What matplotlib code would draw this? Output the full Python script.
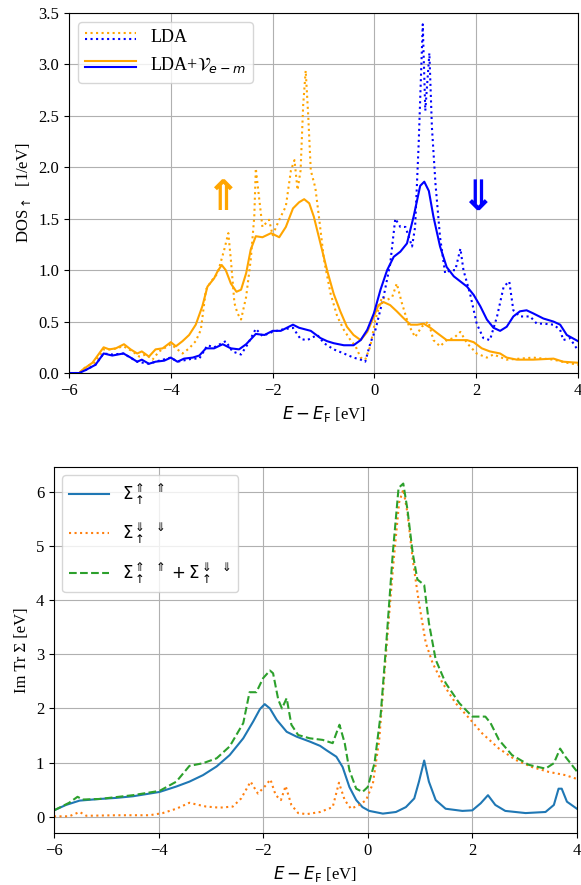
#!/usr/bin/env python3
import matplotlib
matplotlib.use('Agg')
from matplotlib import pyplot as plt
from matplotlib.legend_handler import HandlerBase
from matplotlib.lines import Line2D

plt.rcParams['font.family'] = ['Liberation Serif', 'DejaVu Sans']
plt.rcParams['mathtext.fontset'] = 'dejavusans'
plt.rcParams['font.size'] = 12

# %% top panel: spin-resolved DOS
E_up_lda = [-6.0, -5.8, -5.67, -5.5, -5.32, -5.15, -4.93, -4.75, -4.62, -4.49, -4.36, -4.23,
            -4.0, -3.87, -3.77, -3.64, -3.51, -3.41, -3.31, -3.21, -3.08, -2.95, -2.87,
            -2.82, -2.75, -2.69, -2.62, -2.52, -2.43, -2.36, -2.33, -2.26, -2.2, -2.07,
            -2.0, -1.87, -1.74, -1.64, -1.57, -1.51, -1.45, -1.40, -1.35, -1.30, -1.25,
            -1.16, -1.09, -0.99, -0.86, -0.73, -0.60, -0.47, -0.37, -0.27, -0.18, -0.08,
            0.02, 0.15, 0.25, 0.35, 0.44, 0.54, 0.67, 0.80, 0.93, 1.06, 1.16, 1.29, 1.42,
            1.56, 1.69, 1.82, 2.01, 2.21, 2.34, 2.6, 3.12, 3.52, 3.78, 4.0]
dos_up_lda = [0.0, 0.0, 0.06, 0.1, 0.23, 0.23, 0.26, 0.21, 0.16, 0.18, 0.13, 0.21,
              0.28, 0.23, 0.19, 0.24, 0.31, 0.42, 0.81, 0.89, 0.97, 1.20, 1.36,
              1.10, 0.68, 0.58, 0.52, 0.74, 1.10, 1.52, 1.99, 1.68, 1.42, 1.49,
              1.34, 1.49, 1.62, 1.97, 2.07, 1.78, 1.97, 2.6, 2.94, 2.5, 1.97,
              1.80, 1.52, 1.10, 0.77, 0.55, 0.42, 0.32, 0.26, 0.15, 0.13, 0.26,
              0.52, 0.74, 0.71, 0.74, 0.87, 0.68, 0.47, 0.35, 0.45, 0.50, 0.32, 0.26, 0.32,
              0.34, 0.40, 0.29, 0.19, 0.15, 0.18, 0.13, 0.15, 0.13, 0.10, 0.08]

E_up_v = [-6.0, -5.8, -5.74, -5.54, -5.32, -5.21, -5.08, -4.92, -4.79, -4.66, -4.57, -4.43,
          -4.30, -4.16, -4.0, -3.90, -3.77, -3.64, -3.51, -3.38, -3.28, -3.15, -3.08,
          -3.0, -2.92, -2.82, -2.71, -2.62, -2.52, -2.43, -2.33, -2.2, -2.03, -1.87,
          -1.74, -1.6, -1.48, -1.38, -1.28, -1.19, -1.06, -0.93, -0.80, -0.67, -0.54,
          -0.41, -0.27, -0.14, -0.01, 0.08, 0.18, 0.31, 0.44, 0.58, 0.71, 0.84, 0.97,
          1.10, 1.23, 1.42, 1.62, 1.82, 1.95, 2.11, 2.27, 2.47, 2.60, 2.80, 3.12, 3.52,
          3.71, 4.0]
dos_up_v = [0.0, 0.0, 0.03, 0.1, 0.25, 0.23, 0.24, 0.28, 0.23, 0.19, 0.21, 0.16,
            0.23, 0.24, 0.30, 0.26, 0.31, 0.37, 0.47, 0.65, 0.84, 0.92, 0.99,
            1.05, 1.0, 0.87, 0.79, 0.81, 0.97, 1.2, 1.33, 1.32, 1.36, 1.32,
            1.42, 1.60, 1.66, 1.69, 1.65, 1.52, 1.26, 1.0, 0.77, 0.60, 0.45,
            0.37, 0.32, 0.40, 0.55, 0.66, 0.69, 0.66, 0.60, 0.53, 0.47, 0.47, 0.48,
            0.44, 0.39, 0.32, 0.32, 0.32, 0.30, 0.24, 0.21, 0.19, 0.15, 0.13, 0.13, 0.14,
            0.11, 0.10]

E_dn_lda = [-6.0, -5.8, -5.67, -5.48, -5.32, -5.15, -4.93, -4.66, -4.43, -4.23, -4.0,
            -3.87, -3.57, -3.44, -3.28, -3.15, -2.92, -2.79, -2.62, -2.49, -2.33, -2.2,
            -2.0, -1.84, -1.6, -1.45, -1.32, -1.12, -0.99, -0.80, -0.60, -0.41, -0.27,
            -0.18, -0.08, 0.02, 0.18, 0.31, 0.41, 0.51, 0.61, 0.74, 0.80, 0.87, 0.95,
            1.0, 1.08, 1.13, 1.20, 1.29, 1.39, 1.49, 1.59, 1.69, 1.75, 1.88, 2.01, 2.14,
            2.27, 2.41, 2.54, 2.65, 2.73, 2.86, 3.06, 3.19, 3.32, 3.52, 3.65, 3.71, 3.84,
            4.0]
dos_dn_lda = [0.0, 0.0, 0.03, 0.08, 0.19, 0.18, 0.19, 0.11, 0.09, 0.12, 0.15,
              0.11, 0.14, 0.14, 0.27, 0.25, 0.31, 0.21, 0.18, 0.28, 0.43, 0.36,
              0.40, 0.42, 0.44, 0.33, 0.32, 0.37, 0.29, 0.23, 0.19, 0.15, 0.13,
              0.11, 0.29, 0.42, 0.74, 1.06, 1.50, 1.42, 1.42, 1.23, 1.42, 2.23, 3.39,
              2.55, 3.11, 2.39, 1.84, 1.32, 0.97, 1.0, 1.0, 1.21, 1.0, 0.77, 0.48, 0.34,
              0.32, 0.55, 0.84, 0.89, 0.61, 0.55, 0.55, 0.48, 0.48, 0.47, 0.42, 0.32, 0.34,
              0.22]

E_dn_v = [-6.0, -5.8, -5.67, -5.48, -5.32, -5.15, -4.93, -4.79, -4.66, -4.57, -4.43,
          -4.30, -4.13, -4.0, -3.87, -3.74, -3.57, -3.44, -3.31, -3.15, -2.98, -2.82,
          -2.66, -2.52, -2.33, -2.16, -2.0, -1.84, -1.6, -1.48, -1.25, -1.06, -0.93,
          -0.80, -0.60, -0.41, -0.27, -0.14, -0.01, 0.12, 0.25, 0.38, 0.51, 0.64, 0.77,
          0.90, 0.98, 1.07, 1.16, 1.29, 1.42, 1.56, 1.69, 1.82, 1.95, 2.08, 2.21, 2.34,
          2.47, 2.60, 2.73, 2.86, 2.99, 3.12, 3.32, 3.52, 3.65, 3.78, 4.0]
dos_dn_v = [0.0, 0.0, 0.03, 0.08, 0.19, 0.17, 0.19, 0.15, 0.11, 0.13, 0.09,
            0.11, 0.12, 0.15, 0.11, 0.14, 0.15, 0.17, 0.24, 0.24, 0.28, 0.24,
            0.23, 0.28, 0.38, 0.37, 0.41, 0.41, 0.47, 0.44, 0.41, 0.34, 0.31,
            0.29, 0.27, 0.27, 0.32, 0.42, 0.58, 0.81, 1.0, 1.13, 1.18, 1.26, 1.52,
            1.82, 1.86, 1.77, 1.52, 1.23, 1.03, 0.94, 0.89, 0.84, 0.76, 0.65, 0.52, 0.44,
            0.41, 0.45, 0.55, 0.60, 0.61, 0.58, 0.53, 0.50, 0.47, 0.37, 0.31]

# %% bottom panel: Im Tr Sigma
E_s_uu = [-6.0, -5.77, -5.51, -5.13, -4.81, -4.49, -4.17, -3.98, -3.66, -3.41, -3.15,
          -2.89, -2.64, -2.38, -2.19, -2.06, -1.97, -1.87, -1.74, -1.55, -1.36, -1.11,
          -0.91, -0.79, -0.60, -0.48, -0.35, -0.22, -0.10, 0.03, 0.29, 0.54, 0.73,
          0.89, 0.98, 1.08, 1.17, 1.30, 1.49, 1.81, 2.0, 2.16, 2.30, 2.44, 2.63, 3.02,
          3.40, 3.56, 3.65, 3.71, 3.81, 4.0]
s_uu = [0.12, 0.22, 0.30, 0.33, 0.35, 0.38, 0.43, 0.46, 0.56, 0.65, 0.77,
        0.93, 1.14, 1.45, 1.76, 1.99, 2.08, 2.0, 1.79, 1.57, 1.48, 1.39,
        1.31, 1.23, 1.11, 0.92, 0.55, 0.31, 0.18, 0.11, 0.06, 0.09, 0.18,
        0.34, 0.65, 1.04, 0.65, 0.31, 0.15, 0.11, 0.12, 0.25, 0.40, 0.22, 0.11, 0.07,
        0.09, 0.22, 0.52, 0.52, 0.28, 0.15]

E_s_dd = [-6.0, -5.71, -5.51, -5.38, -4.81, -4.17, -3.92, -3.66, -3.41, -3.28, -3.09,
          -2.83, -2.58, -2.42, -2.24, -2.10, -1.97, -1.86, -1.76, -1.66, -1.57, -1.46,
          -1.33, -1.17, -0.91, -0.67, -0.55, -0.44, -0.32, -0.16, -0.03, 0.10, 0.22,
          0.35, 0.48, 0.60, 0.68, 0.76, 0.86, 0.98, 1.11, 1.24, 1.43, 1.68, 1.94, 2.19,
          2.51, 2.83, 3.14, 3.46, 3.78, 4.0]
s_dd = [0.01, 0.01, 0.09, 0.02, 0.03, 0.03, 0.07, 0.15, 0.26, 0.23, 0.19,
        0.17, 0.19, 0.34, 0.65, 0.43, 0.56, 0.69, 0.40, 0.31, 0.57, 0.22,
        0.07, 0.05, 0.09, 0.18, 0.63, 0.31, 0.15, 0.22, 0.31, 0.62, 1.42,
        3.02, 4.56, 5.80, 6.04, 5.61, 4.75, 3.95, 3.21, 2.84, 2.47, 2.10, 1.82, 1.54,
        1.26, 1.05, 0.92, 0.83, 0.77, 0.70]

E_s_sum = [-6.0, -5.71, -5.55, -5.45, -5.13, -4.49, -3.98, -3.66, -3.41, -3.15, -2.89,
           -2.64, -2.38, -2.26, -2.13, -2.0, -1.87, -1.81, -1.71, -1.64, -1.55, -1.46,
           -1.33, -1.11, -0.86, -0.67, -0.54, -0.44, -0.35, -0.22, -0.10, 0.0, 0.13,
           0.25, 0.36, 0.48, 0.59, 0.68, 0.76, 0.86, 0.95, 1.08, 1.17, 1.30, 1.49, 1.75,
           2.0, 2.25, 2.35, 2.51, 2.76, 3.08, 3.40, 3.56, 3.68, 3.78, 4.0]
s_sum = [0.12, 0.26, 0.37, 0.32, 0.33, 0.40, 0.48, 0.65, 0.94, 0.99, 1.08,
         1.30, 1.73, 2.30, 2.30, 2.56, 2.70, 2.65, 2.16, 2.0, 2.19, 1.70,
         1.51, 1.45, 1.42, 1.36, 1.70, 1.36, 0.86, 0.52, 0.46, 0.55, 0.99,
         1.91, 3.27, 4.87, 6.07, 6.15, 5.67, 4.87, 4.38, 4.28, 3.58, 2.90, 2.47, 2.10,
         1.85, 1.85, 1.73, 1.42, 1.14, 0.96, 0.89, 0.99, 1.26, 1.11, 0.84]


class HandlerStack(HandlerBase):
    # two short lines stacked on top of each other in one legend entry
    def create_artists(self, legend, orig_handle, xdescent, ydescent,
                       width, height, fontsize, trans):
        out = []
        yc = height / 2 - ydescent
        for i, h in enumerate(orig_handle):
            y = yc + height * (0.25 - 0.5 * i)
            ln = Line2D([-xdescent, width - xdescent], [y, y],
                        color=h.get_color(), linestyle=h.get_linestyle(),
                        linewidth=h.get_linewidth(), transform=trans)
            out.append(ln)
        return out


fig = plt.figure(figsize=(5.81, 8.85), dpi=100)
ax1 = fig.add_axes([0.1188, 0.5785, 0.876, 0.4068])
ax2 = fig.add_axes([0.0929, 0.0588, 0.900, 0.4136])

l1, = ax1.plot(E_up_lda, dos_up_lda, ':', color='orange', lw=1.5)
l2, = ax1.plot(E_dn_lda, dos_dn_lda, ':', color='blue', lw=1.5)
l3, = ax1.plot(E_up_v, dos_up_v, '-', color='orange', lw=1.5)
l4, = ax1.plot(E_dn_v, dos_dn_v, '-', color='blue', lw=1.5)
ax1.text(-2.98, 1.5, '\u21d1', color='orange', fontsize=30, fontweight='bold',
         family='DejaVu Sans', ha='center', va='bottom')
ax1.text(2.03, 1.5, '\u21d3', color='blue', fontsize=30, fontweight='bold',
         family='DejaVu Sans', ha='center', va='bottom')
ax1.set_xlim(-6, 4)
ax1.set_ylim(0, 3.5)
ax1.grid(True)
ax1.set_xlabel(r'$E-E_\mathrm{F}$ [eV]')
ax1.set_ylabel(r'DOS$_\uparrow$  [1/eV]')
ax1.legend([(l1, l2), (l3, l4)], ['LDA', r'LDA+$\mathcal{V}_{e-m}$'],
           handler_map={tuple: HandlerStack()}, loc='upper left',
           handlelength=2.8, fontsize=13)

ax2.plot(E_s_uu, s_uu, '-', color='tab:blue', lw=1.5,
         label=r'$\Sigma^{\Uparrow}_{\uparrow}\ {}^{\Uparrow}$')
ax2.plot(E_s_dd, s_dd, ':', color='tab:orange', lw=1.5,
         label=r'$\Sigma^{\Downarrow}_{\uparrow}\ {}^{\Downarrow}$')
ax2.plot(E_s_sum, s_sum, '--', color='tab:green', lw=1.5,
         label=r'$\Sigma^{\Uparrow}_{\uparrow}\ {}^{\Uparrow}+\Sigma^{\Downarrow}_{\uparrow}\ {}^{\Downarrow}$')
ax2.set_xlim(-6, 4)
ax2.grid(True)
ax2.set_xlabel(r'$E-E_\mathrm{F}$ [eV]')
ax2.set_ylabel('Im Tr \u03a3 [eV]')
ax2.legend(loc='upper left', handlelength=2.4, fontsize=12, labelspacing=0.85)

fig.savefig('out.png', dpi=100)
